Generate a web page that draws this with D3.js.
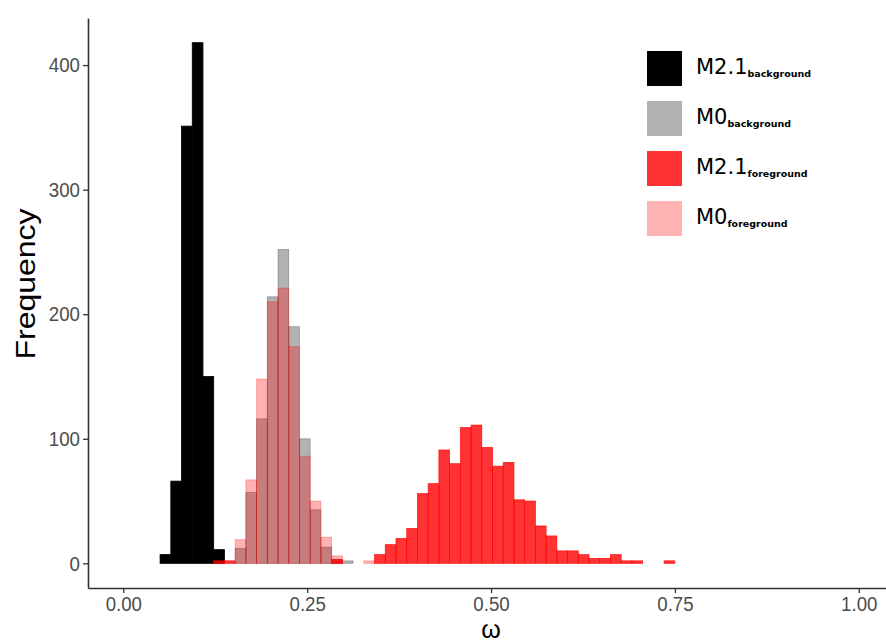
<!DOCTYPE html>
<html>
<head>
<meta charset="utf-8">
<script src="https://cdn.jsdelivr.net/npm/d3@7"></script>
<style>
  body { margin: 0; background: #fff; }
  svg { display: block; }
</style>
</head>
<body>
<div id="chart"></div>
<script>
// histogram bins (omega), shared by all four series
const binStart = 0.05;
const binWidth = 0.01458;

// counts per bin, each series starting at its own first bin index
const m21BgFirst = 0;
const m21BgCounts = [7, 66, 351, 418, 150, 11];

const m0BgFirst = 7;
const m0BgCounts = [12, 57, 116, 214, 252, 190, 100, 43, 13, 3, 2];

const m21FgFirst = 5;
const m21FgCounts = [2, 2,
  0, 0, 0, 0, 0, 0, 0, 0, 0,
  3, 0, 0, 0,
  7, 15, 20, 28, 56, 64, 91, 80, 109, 111, 93, 78, 81, 51, 50, 30, 22, 10, 10, 7, 4, 4, 7, 2, 2,
  0, 0, 2];

const m0FgFirst = 7;
const m0FgCounts = [19, 67, 148, 210, 221, 174, 86, 50, 21, 6, 0, 0, 2];

const xTicks = [0, 0.25, 0.5, 0.75, 1];
const yTicks = [0, 100, 200, 300, 400];

const legendLabels = [
  {main: "M2.1", sub: "background"},
  {main: "M0", sub: "background"},
  {main: "M2.1", sub: "foreground"},
  {main: "M0", sub: "foreground"}
];

// draw order = legend order
const series = [
  {first: m21BgFirst, counts: m21BgCounts, color: "#000000", alpha: 1},
  {first: m0BgFirst, counts: m0BgCounts, color: "#000000", alpha: 0.3},
  {first: m21FgFirst, counts: m21FgCounts, color: "#ff0000", alpha: 0.8},
  {first: m0FgFirst, counts: m0FgCounts, color: "#ff0000", alpha: 0.3}
];

var width = 886, height = 644;

const svg = d3.select("#chart")
  .append("svg")
  .attr("width", width)
  .attr("height", height);

// panel: left edge 88, bottom 588, top 18
var x = d3.scaleLinear().domain([-0.048, 1.037]).range([88, 886]);
var y = d3.scaleLinear().domain([-19.8, 437.8]).range([588, 18]);

const bars = svg.append("g");

series.forEach(function(s) {
  const bins = s.counts.map(function(c, i) {
    const x0 = binStart + (s.first + i) * binWidth;
    return {x0: x0, x1: x0 + binWidth, count: c};
  }).filter(function(d) { return d.count > 0; });

  bars.append("g")
    .selectAll("rect")
    .data(bins)
    .enter()
    .append("rect")
    .attr("x", d => x(d.x0))
    .attr("width", d => x(d.x1) - x(d.x0))
    .attr("y", d => y(d.count))
    .attr("height", d => y(0) - y(d.count))
    .attr("fill", s.color)
    .attr("fill-opacity", s.alpha)
    .attr("stroke", s.color)
    .attr("stroke-opacity", s.alpha)
    .attr("stroke-width", 0.8);
});

// axes
const xAxis = svg.append("g")
  .attr("transform", "translate(0," + 588 + ")")
  .call(d3.axisBottom(x).tickValues(xTicks).tickFormat(d3.format(".2f"))
    .tickSize(5).tickSizeOuter(0).tickPadding(3));

const yAxis = svg.append("g")
  .attr("transform", "translate(" + 88 + ",0)")
  .call(d3.axisLeft(y).tickValues(yTicks).tickFormat(d3.format("d"))
    .tickSize(5).tickSizeOuter(0).tickPadding(3));

[xAxis, yAxis].forEach(function(ax) {
  ax.select(".domain").attr("stroke", "#333").attr("stroke-width", 1.6);
  ax.selectAll(".tick line").attr("stroke", "#333").attr("stroke-width", 1.3);
  ax.selectAll(".tick text")
    .attr("fill", "#4d4d4d")
    .style("font-family", "'Liberation Sans', Arial, sans-serif")
    .style("font-size", "21px")
    .attr("transform", "scale(0.89,1)");
});
yAxis.selectAll(".tick text").attr("x", -9);

// axis titles
svg.append("text")
  .attr("transform", "translate(" + 35 + "," + 284 + ") rotate(-90) scale(1,0.89)")
  .attr("text-anchor", "middle")
  .style("font-family", "'Liberation Sans', Arial, sans-serif")
  .style("font-size", "32px")
  .attr("fill", "#000")
  .text("Frequency");

svg.append("text")
  .attr("x", 491)
  .attr("y", 638)
  .attr("text-anchor", "middle")
  .style("font-family", "'Liberation Sans', Arial, sans-serif")
  .style("font-size", "25px")
  .attr("fill", "#000")
  .text("ω");

// legend
const legend = svg.append("g")
  .attr("transform", "translate(647,51)");

const items = legend.selectAll("g")
  .data(legendLabels)
  .enter()
  .append("g")
  .attr("transform", (d, i) => "translate(0," + i * 50 + ")");

items.append("rect")
  .attr("width", 35)
  .attr("height", 35)
  .attr("fill", (d, i) => series[i].color)
  .attr("fill-opacity", (d, i) => series[i].alpha);

const labels = items.append("text")
  .attr("x", 49)
  .attr("y", 23)
  .style("font-family", "'DejaVu Sans', sans-serif")
  .attr("fill", "#000");

labels.append("tspan")
  .style("font-size", "21px")
  .text(d => d.main);
labels.append("tspan")
  .attr("dy", 3)
  .style("font-size", "9.5px")
  .style("font-weight", "bold")
  .text(d => d.sub);
</script>
</body>
</html>
